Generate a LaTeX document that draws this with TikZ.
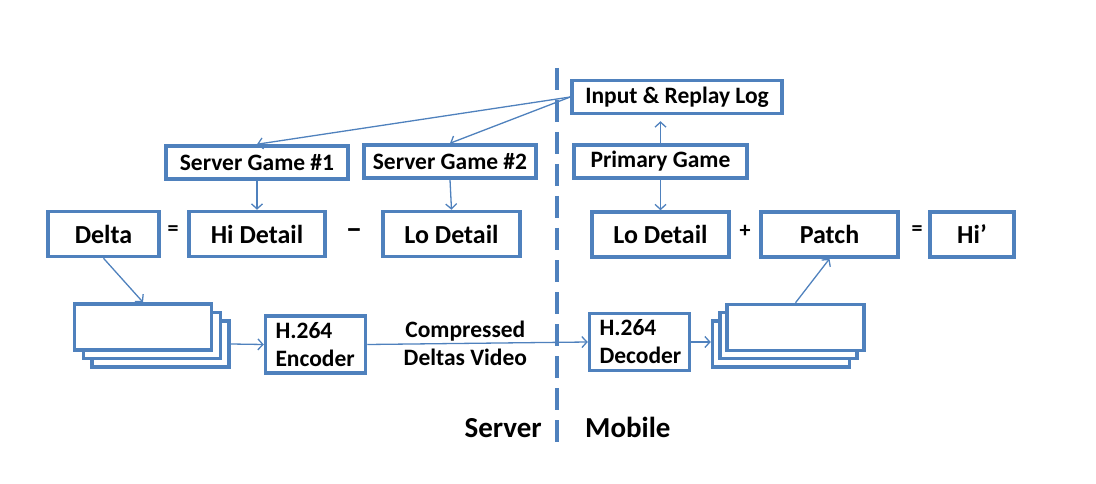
\documentclass[tikz,border=0pt]{standalone}
\usepackage{fontspec}
\setmainfont{Carlito}
\usetikzlibrary{arrows.meta}
\definecolor{boxblue}{RGB}{79,129,189}

\begin{document}
\begin{tikzpicture}[x=1pt, y=-1pt, >={Straight Barb[length=5pt,width=11pt]}]
\tikzstyle{block} = [rectangle, draw=boxblue, line width=3.5pt, fill=white,
inner sep=0pt, font=\fontsize{26}{30}\selectfont\bfseries, minimum height=45pt]
\tikzstyle{game} = [rectangle, draw=boxblue, line width=3.5pt, fill=white,
inner sep=0pt, font=\fontsize{23.5}{28}\selectfont\bfseries, minimum height=33pt]
\tikzstyle{codec} = [game, text width=80pt, inner xsep=10pt, align=left, minimum height=57pt]
\tikzstyle{frame} = [rectangle, draw=boxblue, line width=3.5pt, fill=white,
minimum width=137pt, minimum height=46pt]
\tikzstyle{op} = [font=\fontsize{22}{26}\selectfont\bfseries, inner sep=0pt]
\tikzstyle{side} = [font=\fontsize{29}{34}\selectfont\bfseries, inner sep=0pt]
\tikzstyle{line} = [draw=boxblue, line width=1.3pt, ->]

\useasboundingbox (0,0) rectangle (1096,484);

% server / mobile split
\coordinate (divtop) at (557,68);
\coordinate (divbot) at (557,443);
\draw [boxblue, line width=4pt, dash pattern=on 22pt off 10pt] (divtop) -- (divbot);

% row 1
\node [game, minimum width=210pt] (log) at (677,97) {Input \& Replay Log};
% row 2
\node [game, minimum width=182pt] (game1) at (257,162.5) {Server Game \#1};
\node [game, minimum width=172pt] (game2) at (450,161.5) {Server Game \#2};
\node [game, minimum width=173pt] (primary) at (660.5,161.5) {Primary Game};
% row 3
\node [block, minimum width=111pt] (delta) at (103.5,234) {Delta};
\node [block, minimum width=136pt] (hi) at (257,234) {Hi Detail};
\node [block, minimum width=137pt] (lo) at (451.5,234) {Lo Detail};
\node [block, minimum width=137pt] (lomobile) at (660.5,234.5) {Lo Detail};
\node [block, minimum width=137pt] (patch) at (829.5,234.5) {Patch};
\node [block, minimum width=84pt] (hiprime) at (972,234.5) {Hi’};
\node [op] (eq1) at (173,231) {=};
\node [op, font=\fontsize{30}{34}\selectfont\bfseries] (minus) at (354,234) {−};
\node [op] (plus) at (745,231) {+};
\node [op] (eq2) at (917,231) {=};
% row 4
\node [frame] (deltas3) at (160.5,344) {};
\node [frame] (deltas2) at (152,335.5) {};
\node [frame] (deltas1) at (143,327) {};
\node [codec] (enc) at (315.5,344.5) {H.264\\Encoder};
\node [codec] (dec) at (639.5,342) {H.264\\Decoder};
\node [frame] (patches3) at (781,344) {};
\node [frame] (patches2) at (788.5,335.5) {};
\node [frame] (patches1) at (795.5,327.5) {};
% labels
\node [side, anchor=base east] (server) at (542,437) {Server};
\node [side, anchor=base west] (mobile) at (585,437) {Mobile};

\path [line] (log.west) -- (game1.north);
\path [line] (log.west) -- (game2.north);
\path [line, shorten >=6pt] (primary.north) -- (primary.north |- log.south);
\path [line] (primary.south) -- (lomobile.north);
\path [line] (game1.south) -- (hi.north);
\path [line] (game2.south) -- (lo.north);
\path [line] (delta.south) -- (deltas1.north);
\path [line] (deltas3.east) -- (enc.west);
\path [line] (enc.east) -- node [pos=0.445, align=center, font=\fontsize{23.5}{28}\selectfont\bfseries] {Compressed\\Deltas Video} (dec.west);
\path [line] (dec.east) -- (dec.east -| patches3.west);
\path [line] (patches1.north) -- (patch.south);

\end{tikzpicture}
\end{document}
